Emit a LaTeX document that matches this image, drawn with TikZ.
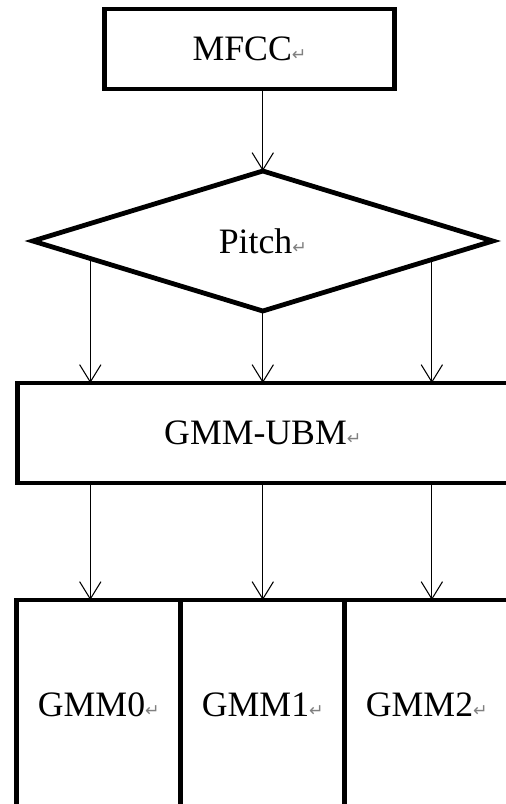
\documentclass[tikz,border=0pt]{standalone}
\usepackage{fontspec}
\setmainfont{Liberation Serif}
\newfontfamily\symfont{DejaVu Sans}
\usetikzlibrary{arrows.meta,calc,positioning,shapes.geometric}

\newcommand{\ret}{{\color{gray}\symfont\fontsize{13pt}{13pt}\selectfont ↵}}

\begin{document}
\begin{tikzpicture}[->,>={Straight Barb[length=13pt,width=16pt]},line width=0.8pt,
    font=\fontsize{26.8pt}{32pt}\selectfont,
    block/.style={draw,rectangle,line width=3.6pt,outer sep=0pt,inner sep=0pt},
    decision/.style={draw,diamond,aspect=3.3,line width=3.6pt,outer sep=0pt,inner sep=0pt,
      minimum width=345pt,minimum height=105pt}]
  \useasboundingbox (0,0) rectangle (379.5pt,-603pt);
  \node[block,minimum width=218pt,minimum height=60pt] (mfcc) at (187.1pt,-36.75pt) {MFCC\ret};
  \node[decision] (pitch) [below=61.5pt of mfcc,xshift=10pt] {Pitch\ret};
  \node[block,minimum width=368pt,minimum height=75pt] (ubm) [below=54pt of pitch] {GMM-UBM\ret};
  \node[block,minimum width=123pt,minimum height=157.5pt] (gmm1) [below=87.75pt of ubm] {GMM1\ret};
  \node[block,minimum width=123pt,minimum height=157.5pt] (gmm0) [left=0pt of gmm1] {GMM0\ret};
  \node[block,minimum width=123pt,minimum height=157.5pt] (gmm2) [right=0pt of gmm1] {GMM2\ret};

  \coordinate (pl) at ($(pitch.west)!0.25!(pitch.south)$);
  \coordinate (pr) at ($(pitch.east)!0.265!(pitch.south)$);

  \draw (pitch.north |- mfcc.south) -- (pitch.north);
  \draw (pl) -- (pl |- ubm.north);
  \draw (pitch.south) -- (pitch.south |- ubm.north);
  \draw (pr) -- (pr |- ubm.north);
  \draw (pl |- ubm.south) -- (pl |- gmm0.north);
  \draw (pitch.south |- ubm.south) -- (pitch.south |- gmm1.north);
  \draw (pr |- ubm.south) -- (pr |- gmm2.north);
\end{tikzpicture}
\end{document}
